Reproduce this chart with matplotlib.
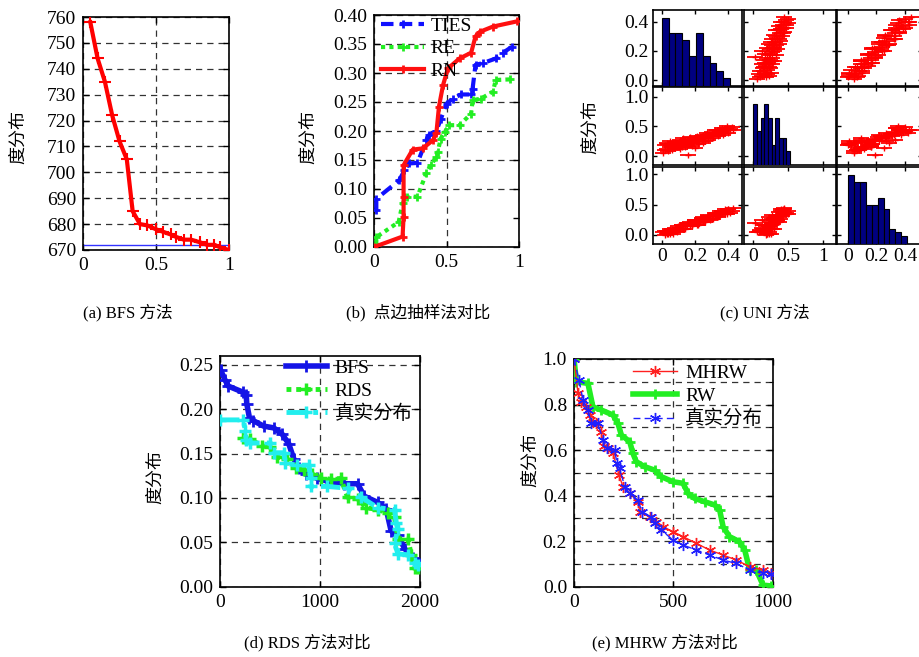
import matplotlib
matplotlib.use('Agg')
import matplotlib.pyplot as plt
from matplotlib.ticker import MultipleLocator, FormatStrFormatter
import numpy as np

plt.rcParams['font.family'] = ['Liberation Serif', 'Noto Sans CJK SC']
plt.rcParams['axes.unicode_minus'] = False

W, H = 920, 657

# ---------------- data ----------------
# (a) BFS
a_x = [0.05, 0.10, 0.15, 0.20, 0.25, 0.30, 0.34, 0.39, 0.44, 0.50,
       0.55, 0.60, 0.64, 0.69, 0.74, 0.80, 0.85, 0.90, 0.94, 1.00]
a_y = [758, 744, 735, 722, 712, 705, 685, 680, 679.5, 678,
       677, 676, 675, 674, 674, 673, 672, 672, 671, 670]
a_ref = 672

# (b) TIES / RE / RN
ties_x = [0.016, 0.016, 0.174, 0.21, 0.24, 0.30, 0.36, 0.38, 0.43, 0.46, 0.50,
          0.545, 0.60, 0.67, 0.68, 0.70, 0.75, 0.84, 0.89, 0.95]
ties_y = [0.063, 0.083, 0.115, 0.132, 0.144, 0.145, 0.184, 0.193, 0.200, 0.220, 0.247,
          0.256, 0.263, 0.263, 0.273, 0.314, 0.317, 0.325, 0.335, 0.345]
re_x = [0.016, 0.016, 0.17, 0.197, 0.23, 0.30, 0.36, 0.39, 0.43, 0.44, 0.46, 0.49,
        0.52, 0.59, 0.67, 0.68, 0.74, 0.82, 0.84, 0.94]
re_y = [0.006, 0.017, 0.043, 0.075, 0.086, 0.087, 0.127, 0.141, 0.155, 0.164, 0.187, 0.199,
        0.210, 0.210, 0.230, 0.253, 0.256, 0.268, 0.288, 0.289]
rn_x = [0.0, 0.197, 0.204, 0.204, 0.204, 0.267, 0.336, 0.406, 0.43, 0.448, 0.476,
        0.51, 0.59, 0.67, 0.70, 0.73, 0.82, 0.986]
rn_y = [0.0, 0.018, 0.052, 0.086, 0.141, 0.168, 0.170, 0.184, 0.196, 0.242, 0.279,
        0.308, 0.325, 0.335, 0.363, 0.371, 0.380, 0.389]

# (c) UNI scatter matrix variables
v1 = [0.01, 0.02, 0.03, 0.03, 0.04, 0.05, 0.05, 0.06, 0.07, 0.08, 0.08, 0.09, 0.10, 0.11, 0.11,
      0.12, 0.13, 0.14, 0.14, 0.15, 0.16, 0.17, 0.17, 0.18, 0.19, 0.20, 0.21, 0.21, 0.22, 0.23,
      0.24, 0.25, 0.25, 0.26, 0.27, 0.28, 0.29, 0.30, 0.31, 0.32, 0.33, 0.34, 0.35, 0.36, 0.37,
      0.38, 0.39, 0.40, 0.41, 0.43,
      0.02, 0.04, 0.06, 0.09, 0.12, 0.13, 0.15, 0.18, 0.20, 0.22, 0.24, 0.26, 0.28, 0.30,
      0.32, 0.34, 0.36, 0.38, 0.40, 0.42]
v2 = [0.05, 0.18, 0.12, 0.22, 0.08, 0.16, 0.25, 0.10, 0.19, 0.14, 0.24, 0.15, 0.18, 0.27, 0.12,
      0.21, 0.30, 0.15, 0.24, 0.19, 0.02, 0.22, 0.32, 0.17, 0.27, 0.13, 0.25, 0.34, 0.20, 0.30,
      0.26, 0.36, 0.22, 0.31, 0.38, 0.27, 0.34, 0.41, 0.30, 0.38, 0.44, 0.33, 0.40, 0.47, 0.36,
      0.43, 0.50, 0.39, 0.46, 0.44,
      0.10, 0.20, 0.15, 0.22, 0.16, 0.25, 0.27, 0.24, 0.30, 0.28, 0.33, 0.25, 0.36, 0.33,
      0.43, 0.37, 0.42, 0.47, 0.44, 0.49]
v3 = [0.04, 0.00, 0.07, 0.01, 0.04, 0.10, 0.01, 0.08, 0.02, 0.09, 0.11, 0.06, 0.14, 0.09, 0.11,
      0.17, 0.09, 0.16, 0.09, 0.16, 0.19, 0.14, 0.21, 0.16, 0.19, 0.25, 0.17, 0.23, 0.17, 0.24,
      0.27, 0.22, 0.29, 0.24, 0.27, 0.33, 0.25, 0.32, 0.26, 0.33, 0.36, 0.31, 0.39, 0.34, 0.37,
      0.43, 0.35, 0.42, 0.36, 0.44,
      0.06, 0.01, 0.10, 0.05, 0.16, 0.09, 0.19, 0.14, 0.24, 0.18, 0.28, 0.22, 0.32, 0.26,
      0.36, 0.30, 0.40, 0.34, 0.43, 0.40]
hist1_counts = [9, 7, 7, 6, 4, 7, 4, 3, 2, 1]
hist2_counts = [9, 5, 7, 9, 7, 3, 7, 4, 4, 2]
hist3_counts = [18, 16, 16, 10, 10, 12, 9, 4, 3, 2]

# (d) RDS
d_bfs_x = [7, 50, 84, 235, 262, 268, 295, 335, 436, 537, 621, 688, 738, 789, 856, 973,
           1107, 1242, 1376, 1443, 1577, 1661, 1711, 1779, 1846, 1929, 2000]
d_bfs_y = [0.244, 0.233, 0.226, 0.219, 0.216, 0.206, 0.190, 0.187, 0.181, 0.179, 0.172,
           0.161, 0.144, 0.134, 0.127, 0.122, 0.118, 0.116, 0.116, 0.102, 0.095, 0.088,
           0.063, 0.058, 0.043, 0.032, 0.026]
d_rds_x = [235, 302, 419, 503, 570, 671, 755, 839, 923, 1007, 1107, 1208, 1275, 1376,
           1460, 1577, 1678, 1745, 1779, 1879, 1913, 1946, 1980]
d_rds_y = [0.168, 0.166, 0.159, 0.157, 0.146, 0.144, 0.134, 0.132, 0.127, 0.123, 0.121,
           0.122, 0.101, 0.099, 0.089, 0.087, 0.083, 0.078, 0.054, 0.054, 0.036, 0.021, 0.021]
d_true_x = [0, 235, 252, 262, 302, 503, 537, 638, 654, 772, 889, 906, 906, 1074, 1275,
            1409, 1577, 1745, 1762, 1779, 1745, 1779, 1879, 1946, 1980]
d_true_y = [0.188, 0.188, 0.176, 0.165, 0.162, 0.162, 0.151, 0.151, 0.139, 0.137, 0.137,
            0.122, 0.113, 0.113, 0.111, 0.101, 0.089, 0.087, 0.072, 0.065, 0.049, 0.037,
            0.036, 0.027, 0.025]

# (e) MHRW
e_mh_x = [0, 20, 37, 62, 79, 95, 112, 137, 149, 171, 196, 226, 246, 280, 323, 330, 380,
          414, 447, 497, 548, 615, 682, 749, 816, 883, 950, 992]
e_mh_y = [1.0, 0.85, 0.81, 0.79, 0.754, 0.725, 0.717, 0.68, 0.618, 0.608, 0.586, 0.49,
          0.44, 0.41, 0.373, 0.33, 0.307, 0.285, 0.264, 0.242, 0.22, 0.19, 0.161, 0.139,
          0.117, 0.088, 0.073, 0.059]
e_rw_x = [0, 12, 70, 95, 137, 196, 221, 238, 280, 296, 313, 355, 405, 439, 497, 548, 573,
          606, 657, 707, 732, 749, 781, 831, 858, 883, 916, 950, 992]
e_rw_y = [1.0, 0.90, 0.893, 0.79, 0.776, 0.754, 0.717, 0.666, 0.637, 0.586, 0.549, 0.527,
          0.512, 0.483, 0.461, 0.454, 0.41, 0.388, 0.373, 0.359, 0.337, 0.264, 0.22, 0.198,
          0.161, 0.073, 0.073, 0.007, 0.003]
e_true_x = [0, 25, 45, 70, 87, 121, 146, 166, 204, 216, 229, 255, 280, 323, 340, 389, 405,
            439, 497, 548, 615, 682, 749, 816, 883, 950, 992]
e_true_y = [1.0, 0.908, 0.82, 0.776, 0.717, 0.717, 0.644, 0.608, 0.60, 0.542, 0.52, 0.44,
            0.41, 0.38, 0.33, 0.307, 0.278, 0.249, 0.205, 0.183, 0.161, 0.139, 0.117,
            0.102, 0.073, 0.059, 0.054]

# ---------------- figure ----------------
fig = plt.figure(figsize=(W / 100, H / 100), dpi=100)
FS = 14
GRID = dict(color='#333333', linestyle=(0, (5, 4)), linewidth=0.9)


def add_ax(l, t, r, b):
    return fig.add_axes([l / W, 1 - b / H, (r - l) / W, (b - t) / H])


def style(ax):
    ax.tick_params(direction='in', top=True, right=True, length=4, width=1,
                   labelsize=FS, pad=5)
    for s in ax.spines.values():
        s.set_linewidth(1.2)


def ylab(x, y):
    fig.text(x / W, 1 - y / H, '度分布', rotation=90, ha='center', va='center',
             fontsize=13, family=['Noto Sans CJK SC'])


# (a)
ax = add_ax(83, 17, 229, 250)
style(ax)
ax.plot(a_x, a_y, color='red', lw=3, marker='+', ms=8, mew=1.5, zorder=3)
ax.axhline(a_ref, color='#3333ff', lw=1, zorder=2)
ax.set_xlim(0, 1)
ax.set_ylim(670, 760)
ax.set_yticks(range(670, 761, 10))
ax.set_xticks([0, 0.5, 1], ['0', '0.5', '1'])
ax.grid(True, **GRID)
ylab(18, 137)

# (b)
ax = add_ax(374, 15, 519, 247)
style(ax)
ax.plot(ties_x, ties_y, color='#1010ff', lw=3, ls=(0, (3, 1.5)), marker='+', ms=6, mew=2,
        label='TIES', zorder=3)
ax.plot(re_x, re_y, color='#22ee22', lw=3, ls=(0, (1, 1)), marker='+', ms=6, mew=2,
        label='RE', zorder=3)
ax.plot(rn_x, rn_y, color='#ff1010', lw=3, marker='+', ms=6, mew=2, label='RN', zorder=4)
ax.set_xlim(0, 1)
ax.set_ylim(0, 0.40)
ax.set_yticks(np.arange(0, 0.401, 0.05))
ax.yaxis.set_major_formatter(FormatStrFormatter('%.2f'))
ax.set_xticks([0, 0.5, 1], ['0', '0.5', '1'])
ax.grid(True, **GRID)
ax.get_ygridlines()[1].set_visible(False)
ax.legend(loc='upper left', bbox_to_anchor=(0.05, 0.99), frameon=False, fontsize=FS,
          handlelength=2.2, handletextpad=0.35, labelspacing=0.25, borderpad=0,
          borderaxespad=0)
ylab(308, 137)

# (c) scatter matrix
cols = [(653, 742), (744, 836), (837, 922)]
rows = [(10, 86), (87, 165), (167, 244)]
vars_ = [v1, v2, v3]
xlims = [(-0.052, 0.482), (-0.133, 1.18), (-0.077, 0.52)]
ylims = [(-0.04, 0.48), (-0.15, 1.16), (-0.15, 1.12)]
xticks = [[0, 0.2, 0.4], [0, 0.5, 1], [0, 0.2, 0.4]]
xtl = [['0', '0.2', '0.4'], ['0', '0.5', '1'], ['0', '0.2', '0.4']]
yticks = [[0, 0.2, 0.4], [0, 0.5, 1.0], [0, 0.5, 1.0]]
ytl = [['0.0', '0.2', '0.4'], ['0.0', '0.5', '1.0'], ['0.0', '0.5', '1.0']]
hists = [(hist1_counts, 0.0, 0.41, 10), (hist2_counts, 0.0, 0.524, 11.5),
         (hist3_counts, 0.0, 0.416, 20)]
for i, (t, b) in enumerate(rows):
    for j, (l, r) in enumerate(cols):
        ax = add_ax(l, t, r, b)
        style(ax)
        ax.tick_params(length=3, labelsize=FS, pad=3)
        ax.set_xlim(*xlims[j])
        ax.set_ylim(*ylims[i])
        ax.set_xticks(xticks[j], xtl[j] if i == 2 else [])
        ax.set_yticks(yticks[i], ytl[i] if j == 0 else [])
        if i == j:
            cnt, lo, hi, top = hists[i]
            edges = np.linspace(lo, hi, len(cnt) + 1)
            hx = ax.twinx()
            hx.bar(edges[:-1], cnt, width=np.diff(edges), align='edge',
                   color='#000080', edgecolor='black', linewidth=0.8)
            hx.set_ylim(0, top)
            hx.set_yticks([])
            hx.tick_params(right=False)
            for s in hx.spines.values():
                s.set_visible(False)
        else:
            xs, ys = vars_[j], vars_[i]
            ax.plot(xs, ys, ls='none', marker='_', ms=11, mew=1.3, color='red')
            ax.plot(xs, ys, ls='none', marker='+', ms=4, mew=1, color='red')
ylab(590, 127)

# (d)
ax = add_ax(220, 356, 420, 586.7)
style(ax)
ax.plot(d_bfs_x, d_bfs_y, color='#1414e6', lw=4, marker='+', ms=8, mew=2, label='BFS',
        zorder=3)
ax.plot(d_rds_x, d_rds_y, color='#22ee22', lw=3.5, ls=(0, (1, 1)), marker='+', ms=8, mew=2.5,
        label='RDS', zorder=3)
ax.plot(d_true_x, d_true_y, color='#22eeee', lw=3.5, ls=(0, (4, 1.5, 1, 1.5)), marker='+',
        ms=8, mew=2.5, label='真实分布', zorder=3)
ax.set_xlim(0, 2000)
ax.set_ylim(0, 0.26)
ax.set_yticks(np.arange(0, 0.251, 0.05))
ax.yaxis.set_major_formatter(FormatStrFormatter('%.2f'))
ax.set_xticks([0, 1000, 2000])
ax.grid(True, **GRID)
ax.legend(loc='upper left', bbox_to_anchor=(0.33, 0.985), frameon=False, fontsize=FS,
          handlelength=2.1, handletextpad=0.4, labelspacing=0.25, borderpad=0,
          borderaxespad=0)
ylab(155, 477)

# (e)
ax = add_ax(574, 359, 773, 586.7)
style(ax)
ast = (6, 2, 0)
ax.plot(e_rw_x, e_rw_y, color='#22ee22', lw=4, marker='+', ms=7, mew=2, label='RW', zorder=3)
ax.plot(e_mh_x, e_mh_y, color='#ff2020', lw=1, marker=ast, ms=8, mew=1, label='MHRW',
        zorder=4)
ax.plot(e_true_x, e_true_y, color='#2020ff', lw=1, ls=(0, (5, 3)), marker=ast, ms=8, mew=1,
        label='真实分布', zorder=4)
ax.set_xlim(0, 1000)
ax.set_ylim(0, 1.0)
ax.yaxis.set_major_locator(MultipleLocator(0.2))
ax.yaxis.set_minor_locator(MultipleLocator(0.1))
ax.yaxis.set_major_formatter(FormatStrFormatter('%.1f'))
ax.tick_params(which='minor', direction='in', right=True, length=3)
ax.set_xticks([0, 500, 1000])
ax.grid(True, which='both', axis='y', **GRID)
ax.grid(True, which='major', axis='x', **GRID)
h, l = ax.get_legend_handles_labels()
order = [1, 0, 2]
ax.legend([h[k] for k in order], [l[k] for k in order], loc='upper left',
          bbox_to_anchor=(0.295, 0.975), frameon=False, fontsize=FS,
          handlelength=2.3, handletextpad=0.4, labelspacing=0.25, borderpad=0,
          borderaxespad=0)
ylab(530, 460)

# captions
CAP = 12
fig.text(128 / W, 1 - 313 / H, '(a) BFS 方法', ha='center', va='center', fontsize=CAP)
fig.text(418 / W, 1 - 313 / H, '(b)  点边抽样法对比', ha='center', va='center', fontsize=CAP)
fig.text(765 / W, 1 - 313 / H, '(c) UNI 方法', ha='center', va='center', fontsize=CAP)
fig.text(307 / W, 1 - 643 / H, '(d) RDS 方法对比', ha='center', va='center', fontsize=CAP)
fig.text(665 / W, 1 - 643 / H, '(e) MHRW 方法对比', ha='center', va='center', fontsize=CAP)

fig.savefig('out.png', dpi=100)
